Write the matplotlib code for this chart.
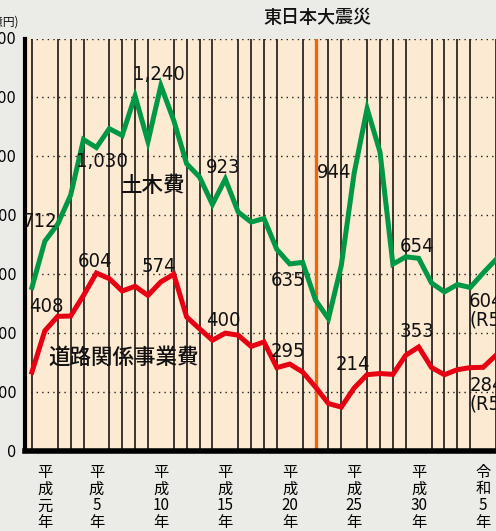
import matplotlib
matplotlib.use("Agg")
import matplotlib.pyplot as plt
from matplotlib import font_manager as fm

# ---------------- data ----------------
years = list(range(1988, 2025))
doboku = [555, 712, 770, 868, 1057, 1030, 1094, 1071, 1205, 1050,
          1240, 1122, 975, 930, 837, 923, 811, 777, 789, 684,
          635, 640, 512, 449, 630, 944, 1162, 1015, 634, 659,
          654, 570, 540, 565, 555, 604, 650]
doro = [268, 408, 457, 458, 528, 604, 585, 543, 559, 528,
        574, 600, 455, 415, 376, 400, 393, 355, 370, 283,
        295, 268, 217, 161, 149, 214, 259, 263, 260, 325,
        353, 283, 259, 276, 283, 284, 325]
quake_year = 2010
tick_years = [1989, 1993, 1998, 2003, 2008, 2013, 2018, 2023]
tick_labels = ["平\n成\n元\n年", "平\n成\n5\n年", "平\n成\n10\n年", "平\n成\n15\n年",
               "平\n成\n20\n年", "平\n成\n25\n年", "平\n成\n30\n年", "令\n和\n5\n年"]
y_ticks = [0, 200, 400, 600, 800, 1000, 1200, 1400]
y_ticklabels = ["0", "200", "400", "600", "800", "1000", "1200", "1400"]
# value labels: (text, x-year, y-value, ha, va)
value_labels = [
    ("712", 1988.6, 780, "center", "center"),
    ("408", 1989.1, 491, "center", "center"),
    ("1,030", 1993.4, 983, "center", "center"),
    ("1,240", 1997.85, 1279, "center", "center"),
    ("604", 1992.9, 644, "center", "center"),
    ("574", 1997.85, 627, "center", "center"),
    ("923", 2002.85, 963, "center", "center"),
    ("635", 2007.9, 579, "center", "center"),
    ("400", 2002.85, 444, "center", "center"),
    ("295", 2007.85, 339, "center", "center"),
    ("944", 2011.46, 946, "center", "center"),
    ("214", 2012.9, 294, "center", "center"),
    ("654", 2017.85, 695, "center", "center"),
    ("353", 2017.85, 406, "center", "center"),
    ("604\n(R5)", 2021.92, 540, "left", "top"),
    ("284\n(R5)", 2021.92, 255, "left", "top"),
]
series_names = ["土木費", "道路関係事業費"]
unit_label = "(億円)"
event_label = "東日本大震災"

# ---------------- fonts ----------------
def pick_narrow():
    fonts = fm.fontManager.ttflist
    for key in ["Liberation Sans Narrow", "Arial Narrow"]:
        for f in fonts:
            if f.name == key:
                return fm.FontProperties(fname=f.fname)
    for f in fonts:
        fn = f.fname.lower()
        if "sanscondensed" in fn.replace("-", "") and "bold" not in fn and "oblique" not in fn:
            return fm.FontProperties(fname=f.fname)
    for f in fonts:
        if ("narrow" in f.name.lower() or "condensed" in f.name.lower()) and f.weight in (400, "normal", "regular") and f.style == "normal":
            return fm.FontProperties(fname=f.fname)
    return fm.FontProperties(family="Liberation Sans")

narrow_fp = pick_narrow()
cjk = "Noto Sans CJK JP"
plt.rcParams["font.family"] = [cjk, "DejaVu Sans"]

def nfp(size):
    fp = narrow_fp.copy()
    fp.set_size(size)
    return fp

# ---------------- figure ----------------
fig = plt.figure(figsize=(4.96, 5.31), dpi=100, facecolor="#ebebe7")
ax = fig.add_axes([25 / 496, 1 - 451 / 531, 1 - 25 / 496, (451 - 38.5) / 531])
ax.set_facecolor("#fdead3")

ax.set_xlim(1988 + (25 - 32) / 13, 1988 + (496 - 32) / 13)
ax.set_ylim(0, 1400)

# vertical year lines
ax.set_xticks(years, minor=True)
ax.grid(True, which="minor", axis="x", color="#2e2622", lw=1.3)
ax.tick_params(axis="x", which="minor", length=0)
# horizontal dotted lines
ax.set_yticks(y_ticks)
ax.set_yticklabels(y_ticklabels)
for lab in ax.get_yticklabels():
    lab.set_fontproperties(nfp(11.5))
ax.grid(True, which="major", axis="y", color="#222222", lw=1.0, linestyle=(0, (1, 3)))
ax.tick_params(axis="y", length=0, pad=6)
ax.set_axisbelow(True)

ax.set_xticks(tick_years)
ax.set_xticklabels(tick_labels, fontsize=11, linespacing=1.0)
ax.tick_params(axis="x", which="major", length=0, pad=9)

for s in ["top", "right"]:
    ax.spines[s].set_visible(False)
ax.spines["left"].set_linewidth(3)
ax.spines["bottom"].set_linewidth(4)

ax.axvline(quake_year, color="#f0640f", lw=2.4, zorder=2)

ax.plot(years, doboku, color="#009844", lw=3.6, zorder=3, solid_joinstyle="miter", clip_on=True)
ax.plot(years, doro, color="#e60012", lw=3.6, zorder=3, solid_joinstyle="miter", clip_on=True)

for t, x, y, ha, va in value_labels:
    ax.text(x, y, t, ha=ha, va=va, fontproperties=nfp(14.5), color="#111111",
            linespacing=1.0, zorder=4)

ax.text(1994.92, 899, series_names[0], ha="left", va="center", fontsize=15.5,
        fontweight="medium", color="#111111", zorder=4)
ax.text(1989.3, 318, series_names[1], ha="left", va="center", fontsize=15.5,
        fontweight="medium", color="#111111", zorder=4)

fig.text(317 / 496, 1 - 18 / 531, event_label, ha="center", va="center", fontsize=13,
         fontweight="medium", color="#111111")
fig.text(19 / 496, 1 - 22 / 531, unit_label, ha="right", va="center", fontsize=8.5, color="#111111")

fig.savefig("out.png", dpi=100, facecolor=fig.get_facecolor())
